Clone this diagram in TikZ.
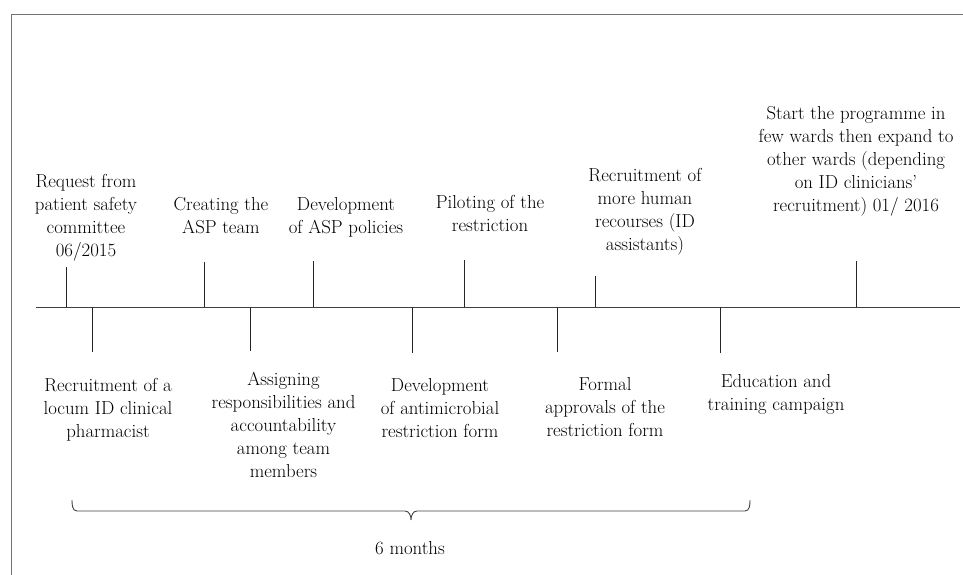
\documentclass[tikz,border=0pt]{standalone}
\begin{document}
\begin{tikzpicture}[x=1pt,y=-1pt,
  lbl/.style={align=center,inner sep=0pt,font=\fontsize{18.8}{23}\selectfont,text=black},
  tick/.style={draw=black!85,line width=0.9pt},
  axis/.style={draw=black!75,line width=1pt},
  frame/.style={draw=black!55,line width=0.8pt}]
\useasboundingbox (0,0) rectangle (963,575);
\draw[frame] (963,14) -- (11,14) -- (11,575);
% axis
\coordinate (a0) at (36,307);
\coordinate (a1) at (960,307);
\draw[axis] (a0) -- (a1);
% upper ticks
\foreach \n/\x/\t in {u1/66/267,u2/204/262,u3/313/261,u4/464/260,u5/595/276,u6/856/261}{
  \coordinate (\n top) at (\x,\t);
  \coordinate (\n base) at (\x,307);
  \draw[tick] (\n base) -- (\n top);
}
% lower ticks
\foreach \n/\x/\b in {d1/92/352,d2/250/351,d3/412/353,d4/557/352,d5/720/353}{
  \coordinate (\n bot) at (\x,\b);
  \coordinate (\n base) at (\x,307);
  \draw[tick] (\n base) -- (\n bot);
}
% upper labels
\node[lbl] (req) at (86,218) {Request from\\patient safety\\committee\\06/2015};
\node[lbl] (create) at (221,216) {Creating the\\ASP team};
\node[lbl] (devasp) at (346,217.5) {Development\\of ASP policies};
\node[lbl] (pilot) at (490,213.5) {Piloting of the\\restriction};
\node[lbl] (recmore) at (645,212) {Recruitment of\\more human\\recourses (ID\\assistants)};
\node[lbl] (start) at (856,161.5) {Start the programme in\\few wards then expand to\\other wards (depending\\on ID clinicians'\\recruitment) 01/ 2016};
% lower labels
\node[lbl] (locum) at (108,410) {Recruitment of a\\locum ID clinical\\pharmacist};
\node[lbl] (assign) at (283.5,424.5) {Assigning\\responsibilities and\\accountability\\among team\\members};
\node[lbl] (devanti) at (440,408) {Development\\of antimicrobial\\restriction form};
\node[lbl] (formal) at (605,407.5) {Formal\\approvals of the\\restriction form};
\node[lbl] (edu) at (776,394) {Education and\\training campaign};
% brace
\coordinate (bl) at (72,500);
\coordinate (br) at (750,500);
\coordinate (bm) at (411,520);
\draw[black!75,line width=0.9pt]
  (bl) to[out=-90,in=180] (77,511) -- (405,511) to[out=0,in=90] (bm)
  (bm) to[out=90,in=180] (417,511) -- (745,511) to[out=0,in=-90] (br);
\node[lbl] (months) at (410,548) {6 months};
\end{tikzpicture}
\end{document}
